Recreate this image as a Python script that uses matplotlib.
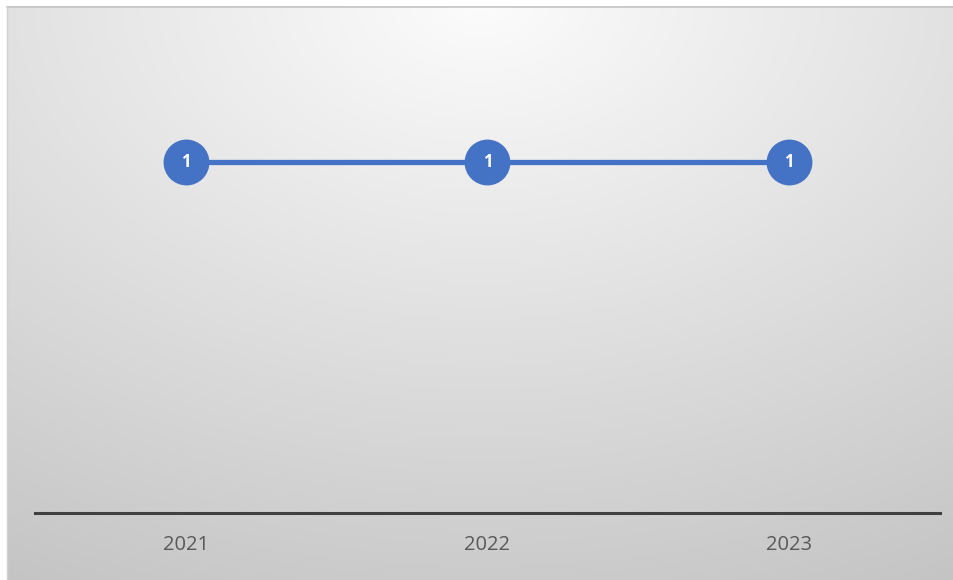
import numpy as np
import matplotlib
matplotlib.use("Agg")
import matplotlib.pyplot as plt

categories = ["2021", "2022", "2023"]
values = [1, 1, 1]
labels = ["1", "1", "1"]

W, H = 954, 580
fig = plt.figure(figsize=(W / 100, H / 100), dpi=100)
fig.patch.set_facecolor("white")

# background gradient panel
bg = fig.add_axes([0, 0, 1, 1])
bg.set_xlim(0, W)
bg.set_ylim(H, 0)
bg.axis("off")
yy, xx = np.mgrid[0:H, 0:W]
dx = (xx - 480) / 1000.0
dy = (yy - 0) / 660.0
r = np.clip(np.sqrt(dx ** 2 + dy ** 2), 0, 1.1)
val = (252 - 56 * r) / 255.0
img = np.dstack([val, val, val])
img[:, :7] = 1.0
img[:6, :] = 1.0
bg.imshow(img, extent=(0, W, H, 0), interpolation="bilinear", zorder=0)
bg.plot([7, W], [6.5, 6.5], color="#c4c4c4", lw=1.2, zorder=1)
bg.plot([7.5, 7.5], [6, H], color="#d0d0d0", lw=1.0, zorder=1)

# plot axes (pixel layout: x 35..940, y baseline 513)
left, right = 35, 940
base, top = 513, 92
ax = fig.add_axes([left / W, 1 - base / H, (right - left) / W, (base - top) / H])
ax.set_facecolor("none")
x = np.arange(len(categories))
ax.plot(x, values, color="#4472C4", lw=3.8, solid_capstyle="butt", zorder=2)
ax.plot(x, values, "o", ms=32, color="#4472C4", mec="#4472C4", zorder=3)
for xi, v, lab in zip(x, values, labels):
    ax.text(xi, v, lab, ha="center", va="center", color="white",
            fontsize=12, fontweight="bold", family="Open Sans", zorder=4)
ax.set_xlim(-0.5, len(categories) - 0.5)
ax.set_ylim(0, 1.2)
for s in ["top", "right", "left"]:
    ax.spines[s].set_visible(False)
ax.spines["bottom"].set_color("#404040")
ax.spines["bottom"].set_linewidth(2.2)
ax.set_yticks([])
ax.set_xticks(x)
ax.set_xticklabels(categories, family="Open Sans", fontsize=14.5, color="#595959")
ax.tick_params(axis="x", length=0, pad=16)

fig.savefig("out.png", dpi=100)
